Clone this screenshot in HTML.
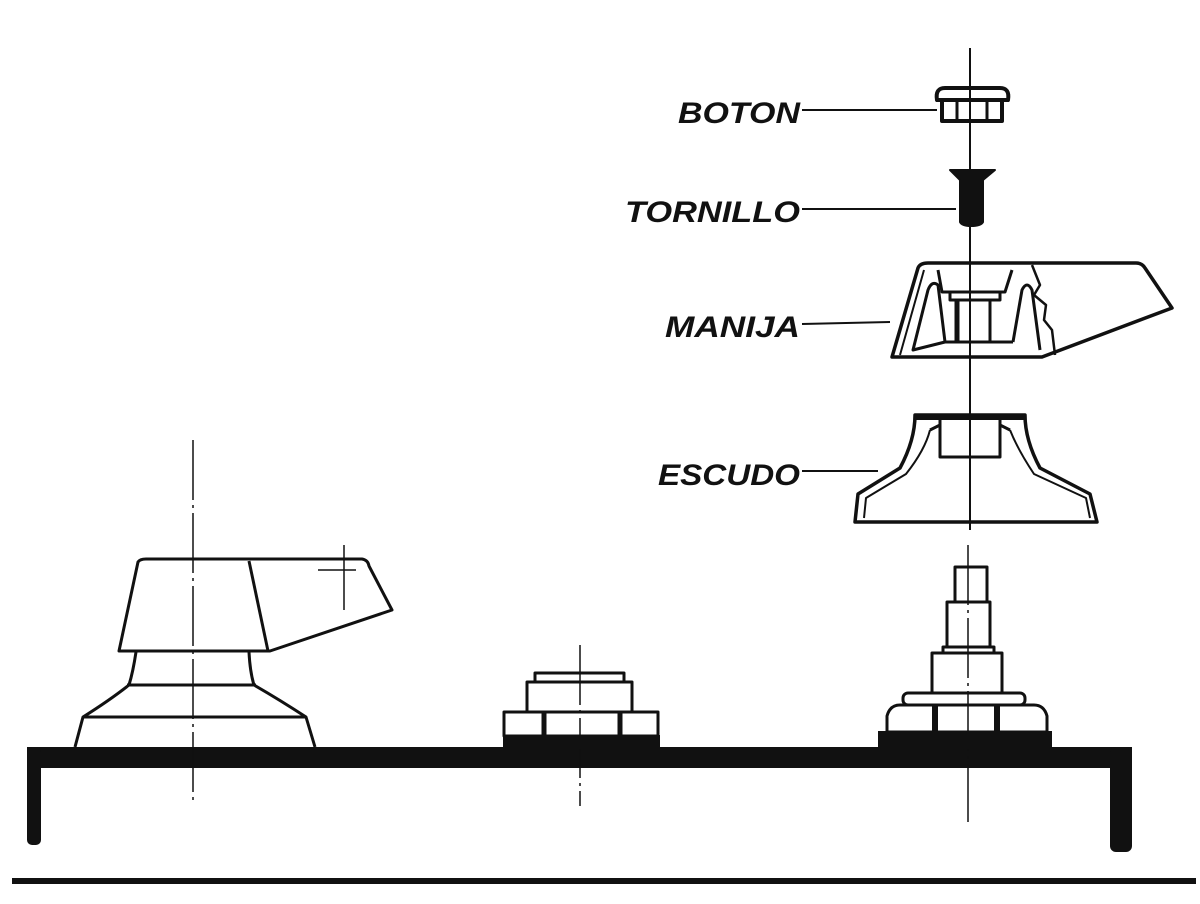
<!DOCTYPE html>
<html><head><meta charset="utf-8"><style>
html,body{margin:0;padding:0;background:#fff}
svg{display:block}
text{font-family:"Liberation Sans",sans-serif;font-weight:bold;font-style:italic;font-size:30px;fill:#111}
</style></head><body>
<svg width="1200" height="904" viewBox="0 0 1200 904" xmlns="http://www.w3.org/2000/svg">
<g stroke="#111" fill="none" stroke-width="3" stroke-linejoin="round">
<!-- panel -->
<rect x="27" y="747" width="1105" height="21" fill="#111" stroke="none"/>
<rect x="27" y="747" width="14" height="98" rx="5" fill="#111" stroke="none"/>
<rect x="1110" y="747" width="22" height="105" rx="6" fill="#111" stroke="none"/>
<rect x="12" y="878" width="1184" height="6" fill="#111" stroke="none"/>

<!-- axes -->
<g stroke-width="1.5" stroke-dasharray="60 5 3 5">
<line x1="193" y1="440" x2="193" y2="802"/>
<line x1="580" y1="645" x2="580" y2="806"/>
<line x1="968" y1="545" x2="968" y2="822"/>
</g>
<line x1="970" y1="48" x2="970" y2="530" stroke-width="2"/>
<line x1="344" y1="545" x2="344" y2="610" stroke-width="1.5"/>
<line x1="318" y1="570" x2="356" y2="570" stroke-width="1.5"/>

<!-- left knob -->
<path d="M138 562 Q140 559 146 559 H362 Q368 560 369 566 L392 610 L270 651 H119 Z"/>
<line x1="249" y1="561" x2="268" y2="651"/>
<path d="M136 652 Q133 672 129 685 M249 652 Q250 672 254 685"/>
<line x1="127" y1="685" x2="256" y2="685"/>
<path d="M129 685 Q110 700 83 717 L75 747 M254 685 Q280 700 306 717 L315 747"/>
<line x1="83" y1="717" x2="306" y2="717"/>

<!-- middle -->
<rect x="535" y="673" width="89" height="9"/>
<rect x="527" y="682" width="105" height="30"/>
<rect x="504" y="712" width="154" height="24"/>
<line x1="544" y1="712" x2="544" y2="736" stroke-width="5"/>
<line x1="620" y1="712" x2="620" y2="736" stroke-width="5"/>
<rect x="503" y="735" width="157" height="14" fill="#111" stroke="none"/>

<!-- right stack -->
<rect x="955" y="567" width="32" height="35"/>
<rect x="947" y="602" width="43" height="45"/>
<rect x="943" y="647" width="51" height="6"/>
<rect x="932" y="653" width="70" height="40"/>
<rect x="903" y="693" width="122" height="12" rx="5"/>
<path d="M887 732 V716 Q890 705 900 705 H1034 Q1044 705 1047 716 V732 Z"/>
<line x1="935" y1="705" x2="935" y2="732" stroke-width="6"/>
<line x1="997" y1="705" x2="997" y2="732" stroke-width="6"/>
<rect x="878" y="731" width="174" height="18" fill="#111" stroke="none"/>

<!-- boton -->
<path d="M937 100 Q935 88 945 88 H1000 Q1010 88 1008 100 Z" stroke-width="4"/>
<path d="M942 100 V121 H1002 V100" stroke-width="4"/>
<rect x="957" y="100" width="30" height="21" stroke-width="3"/>

<!-- tornillo -->
<path d="M950 170 H995 L983 180 V222 Q981 226 971 226 Q962 226 960 222 V180 Z" fill="#111" stroke-width="2"/>

<!-- manija -->
<path d="M892 357 L918 268 Q920 263 928 263 H1136 Q1142 263 1145 268 L1172 308 L1042 357 Z" stroke-width="3.5"/>
<path d="M900 355 L924 270" stroke-width="2"/>
<path d="M913 350 L928 290 Q932 280 938 285 L945 342 Z M1013 342 L1022 290 Q1027 280 1032 290 L1040 350" stroke-width="3"/>
<path d="M945 342 H1013 M938 270 L942 292 H1005 L1012 270 M950 292 V300 H1000 V292 M956 300 V342 M990 300 V342" stroke-width="3"/>
<rect x="958" y="300" width="32" height="42" stroke-width="3"/>
<path d="M1032 265 L1040 285 L1034 295 L1046 305 L1044 320 L1052 330 L1055 355" stroke-width="2.5"/>

<!-- escudo -->
<path d="M855 522 L858 494 L900 468 Q915 440 915 415 H1025 Q1025 440 1040 468 L1090 494 L1097 522 Z" stroke-width="3.5"/>
<path d="M864 518 L866 498 L906 474 Q925 450 930 430 M1010 430 Q1018 450 1034 474 L1086 498 L1090 518" stroke-width="2"/>
<rect x="940" y="417" width="60" height="40" stroke-width="3"/>
<path d="M915 417 H1025" stroke-width="6"/>
<path d="M930 430 L940 425 M1010 430 L1000 425" stroke-width="3"/>

<!-- leader lines -->
<g stroke-width="2">
<line x1="802" y1="110" x2="937" y2="110"/>
<line x1="802" y1="209" x2="956" y2="209"/>
<line x1="802" y1="324" x2="890" y2="322"/>
<line x1="802" y1="471" x2="878" y2="471"/>
</g>
</g>
<text x="678" y="123" textLength="122" lengthAdjust="spacingAndGlyphs">BOTON</text>
<text x="625" y="222" textLength="175" lengthAdjust="spacingAndGlyphs">TORNILLO</text>
<text x="665" y="337" textLength="135" lengthAdjust="spacingAndGlyphs">MANIJA</text>
<text x="658" y="485" textLength="142" lengthAdjust="spacingAndGlyphs">ESCUDO</text>
</svg>
</body></html>
